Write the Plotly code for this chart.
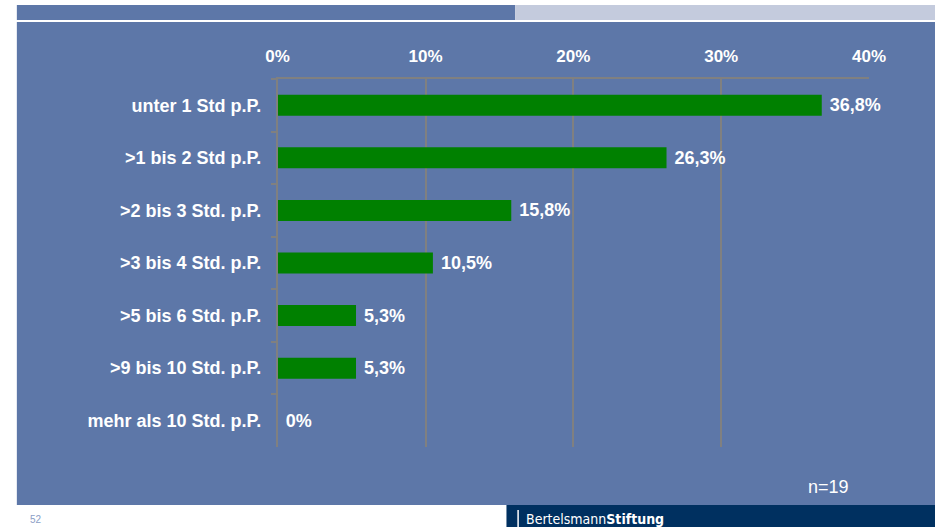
import plotly.graph_objects as go

categories = ["unter 1 Std p.P.", ">1 bis 2 Std p.P.", ">2 bis 3 Std. p.P.", ">3 bis 4 Std. p.P.",
              ">5 bis 6 Std. p.P.", ">9 bis 10 Std. p.P.", "mehr als 10 Std. p.P."]
values = [36.8, 26.3, 15.8, 10.5, 5.3, 5.3, 0]
value_labels = ["36,8%", "26,3%", "15,8%", "10,5%", "5,3%", "5,3%", "0%"]
x_ticks = [0, 10, 20, 30, 40]
x_ticktext = ["0%", "10%", "20%", "30%", "40%"]

W, H = 952, 527
PANEL = "rgb(93,119,168)"
GRID = "rgb(128,128,128)"
FONT = "Liberation Sans, Arial, sans-serif"

fig = go.Figure()
fig.add_trace(go.Bar(
    y=categories, x=values, orientation="h",
    marker=dict(color="#008000", line=dict(width=0)),
    width=0.4,
    text=[" " + t for t in value_labels], textposition="outside", cliponaxis=False,
    textfont=dict(color="white", size=18, family=FONT, weight="bold"),
    hoverinfo="skip",
))

def px(x):
    return x / W

def py(y):
    return 1 - y / H

shapes = [
    dict(type="rect", xref="paper", yref="paper", x0=px(5), x1=px(519), y0=py(20), y1=py(5),
         fillcolor=PANEL, line=dict(width=0), layer="below"),
    dict(type="rect", xref="paper", yref="paper", x0=px(519), x1=px(952), y0=py(20), y1=py(5),
         fillcolor="rgb(196,203,221)", line=dict(width=0), layer="below"),
    dict(type="rect", xref="paper", yref="paper", x0=px(5), x1=px(952), y0=py(505), y1=py(22),
         fillcolor=PANEL, line=dict(width=0), layer="below"),
    dict(type="rect", xref="paper", yref="paper", x0=px(510), x1=px(952), y0=0, y1=py(505),
         fillcolor="rgb(0,48,96)", line=dict(width=0), layer="below"),
    dict(type="line", xref="paper", yref="paper", x0=px(522), x1=px(522), y0=py(527), y1=py(510),
         line=dict(color="white", width=1.5)),
]

annotations = [
    dict(text="n=19", xref="paper", yref="paper", x=px(865), y=py(487), xanchor="right", yanchor="middle",
         showarrow=False, font=dict(color="white", size=18, family=FONT)),
    dict(text="52", xref="paper", yref="paper", x=px(17), y=py(519), xanchor="left", yanchor="middle",
         showarrow=False, font=dict(color="rgb(140,158,198)", size=10, family=FONT)),
    dict(text="Bertelsmann<b>Stiftung</b>", xref="paper", yref="paper", x=px(528), y=py(519),
         xanchor="left", yanchor="middle", showarrow=False,
         font=dict(color="white", size=14, family="DejaVu Sans Condensed, Liberation Sans Narrow, sans-serif")),
]

fig.update_layout(
    width=W, height=H, autosize=False,
    margin=dict(l=0, r=0, t=0, b=0),
    paper_bgcolor="white", plot_bgcolor="rgba(0,0,0,0)",
    separators=",.",
    showlegend=False,
    shapes=shapes, annotations=annotations,
    xaxis=dict(domain=[px(274), px(884)], range=[0, 40], side="top",
               tickvals=x_ticks, ticktext=x_ticktext,
               showgrid=True, gridcolor=GRID, gridwidth=1.5,
               showline=True, linecolor=GRID, linewidth=1.5,
               zeroline=False, ticks="", ticklabelstandoff=8,
               tickfont=dict(color="white", size=17, family=FONT, weight="bold")),
    yaxis=dict(domain=[py(447), py(79)], type="category", autorange="reversed",
               showline=True, linecolor=GRID, linewidth=1.5, showgrid=False,
               ticks="outside", tickson="boundaries", ticklen=5, tickcolor=GRID, tickwidth=1.5,
               ticklabelstandoff=11,
               tickfont=dict(color="white", size=18, family=FONT, weight="bold")),
)

post = (
    "document.documentElement.style.cssText='margin:0;padding:0;overflow:hidden;';"
    "document.body.style.cssText='margin:0;padding:0;overflow:hidden;';"
)

fig.write_html("out.html", config={"displayModeBar": False}, post_script=post)
